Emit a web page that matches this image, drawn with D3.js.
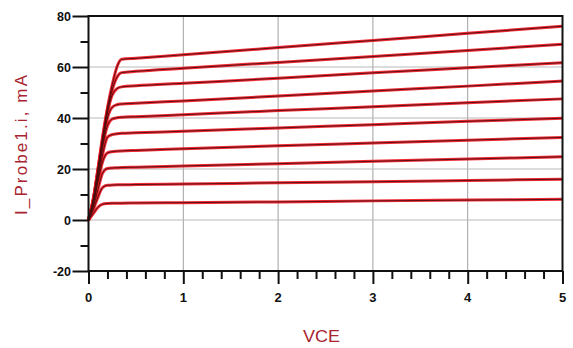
<!DOCTYPE html>
<html><head><meta charset="utf-8">
<script src="https://cdn.jsdelivr.net/npm/d3@7"></script>
<style>body{margin:0;background:#fff;}svg{display:block;}</style>
</head><body><svg id="c" width="573" height="348"></svg>
<script>
const vce = [0, 0.05, 0.1, 0.15, 0.2, 0.25, 0.3, 0.35, 0.5, 1, 2, 3, 4, 5];
const ic1  = [0, 8, 20, 33, 44, 53, 60, 63, 63.4, 64.8, 67.6, 70.4, 73.2, 76];
const ic2  = [0, 8, 20, 32, 43, 51, 56, 57.8, 58.3, 59.5, 61.8, 64.1, 66.5, 68.9];
const ic3  = [0, 8, 19, 31, 42, 49, 51.5, 52.2, 52.6, 53.6, 55.6, 57.7, 59.7, 61.7];
const ic4  = [0, 7, 18, 30, 40, 44.2, 45.2, 45.5, 45.8, 46.7, 48.6, 50.6, 52.5, 54.5];
const ic5  = [0, 7, 17, 29, 37, 39.6, 40.1, 40.3, 40.5, 41.3, 42.9, 44.4, 46, 47.5];
const ic6  = [0, 6, 16, 26, 32.5, 33.5, 33.8, 34, 34.2, 34.8, 36.1, 37.4, 38.7, 39.9];
const ic7  = [0, 6, 15, 23, 26.3, 26.8, 27, 27.1, 27.3, 27.9, 29.1, 30.2, 31.3, 32.4];
const ic8  = [0, 5, 12, 18.5, 20.2, 20.4, 20.5, 20.6, 20.7, 21.2, 22.1, 23, 23.9, 24.8];
const ic9  = [0, 4, 9, 12.8, 13.6, 13.7, 13.8, 13.8, 13.9, 14.1, 14.6, 15, 15.5, 16];
const ic10 = [0, 2.5, 5, 6.2, 6.5, 6.6, 6.6, 6.6, 6.7, 6.8, 7.1, 7.5, 7.8, 8.1];
const series = [ic1, ic2, ic3, ic4, ic5, ic6, ic7, ic8, ic9, ic10];
const xTicks = [0, 1, 2, 3, 4, 5];
const yTicks = [-20, 0, 20, 40, 60, 80];
const xLabel = "VCE";
const yLabel = "I_Probe1.i, mA";

const svg = d3.select("#c");
const x = d3.scaleLinear().domain([0, 5]).range([88.5, 562.5]);
const y = d3.scaleLinear().domain([-20, 80]).range([271, 16]);

// grid
const g = svg.append("g");
g.selectAll("line.vg").data([1,2,3,4]).enter().append("line")
  .attr("x1", d=>x(d)).attr("x2", d=>x(d)).attr("y1", y(80)).attr("y2", y(-20))
  .attr("stroke", "#a0a0a0").attr("stroke-width", 1);
g.selectAll("line.hg").data([0,20,40,60]).enter().append("line")
  .attr("x1", x(0)).attr("x2", x(5)).attr("y1", d=>y(d)).attr("y2", d=>y(d))
  .attr("stroke", "#b8b8b8").attr("stroke-width", 1);

// curves
const line = d3.line().x((d,i)=>x(vce[i])).y(d=>y(d)).curve(d3.curveMonotoneX);
series.forEach(s=>{
  svg.append("path").attr("d", line(s)).attr("fill","none")
    .attr("stroke","#ee1420").attr("stroke-width",3).attr("stroke-opacity",0.9);
});
series.forEach(s=>{
  svg.append("path").attr("d", line(s)).attr("fill","none")
    .attr("stroke","#4a0c0c").attr("stroke-width",0.9);
});

// frame
svg.append("rect").attr("x", x(0)).attr("y", y(80)).attr("width", x(5)-x(0)).attr("height", y(-20)-y(80))
  .attr("fill","none").attr("stroke","#111").attr("stroke-width",2);

// y axis
const yAxis = d3.axisLeft(y).tickValues(d3.range(-20, 81, 10)).tickSize(8).tickFormat("");
const ya = svg.append("g").attr("transform", `translate(${x(0)},0)`).call(yAxis);
ya.select(".domain").remove();
ya.selectAll(".tick line").attr("stroke","#111").attr("stroke-width",2)
  .attr("x2", d=> (d % 20 === 0) ? -16 : -8);
svg.selectAll("text.yl").data(yTicks).enter().append("text")
  .attr("x", 71).attr("y", d=>y(d)+4.5).attr("text-anchor","end")
  .attr("font-family","Liberation Sans, Arial, sans-serif").attr("font-weight","bold")
  .attr("font-size", 12.5).attr("fill","#111").text(d=>d);

// x axis
const xAxis = d3.axisBottom(x).tickValues(d3.range(0, 5.01, 0.2)).tickSize(7).tickFormat("");
const xa = svg.append("g").attr("transform", `translate(0,${y(-20)})`).call(xAxis);
xa.select(".domain").remove();
xa.selectAll(".tick line").attr("stroke","#111").attr("stroke-width",2)
  .attr("y2", d=> Math.abs(d - Math.round(d)) < 1e-6 ? 13 : 8);
svg.selectAll("text.xl").data(xTicks).enter().append("text")
  .attr("x", d=>x(d)).attr("y", 302).attr("text-anchor","middle")
  .attr("font-family","Liberation Sans, Arial, sans-serif").attr("font-weight","bold")
  .attr("font-size", 13).attr("fill","#111").text(d=>d);

// axis titles
svg.append("text").attr("x", 321.5).attr("y", 342).attr("text-anchor","middle")
  .attr("font-family","Liberation Sans, Arial, sans-serif").attr("font-size", 17)
  .attr("textLength", 37).attr("lengthAdjust","spacingAndGlyphs")
  .attr("fill","#a8242e").text(xLabel);
svg.append("text").attr("transform","translate(27,145) rotate(-90)").attr("text-anchor","middle")
  .attr("font-family","Liberation Sans, Arial, sans-serif").attr("font-size", 17)
  .attr("textLength", 140).attr("lengthAdjust","spacing")
  .attr("fill","#a8242e").text(yLabel);
</script></body></html>
